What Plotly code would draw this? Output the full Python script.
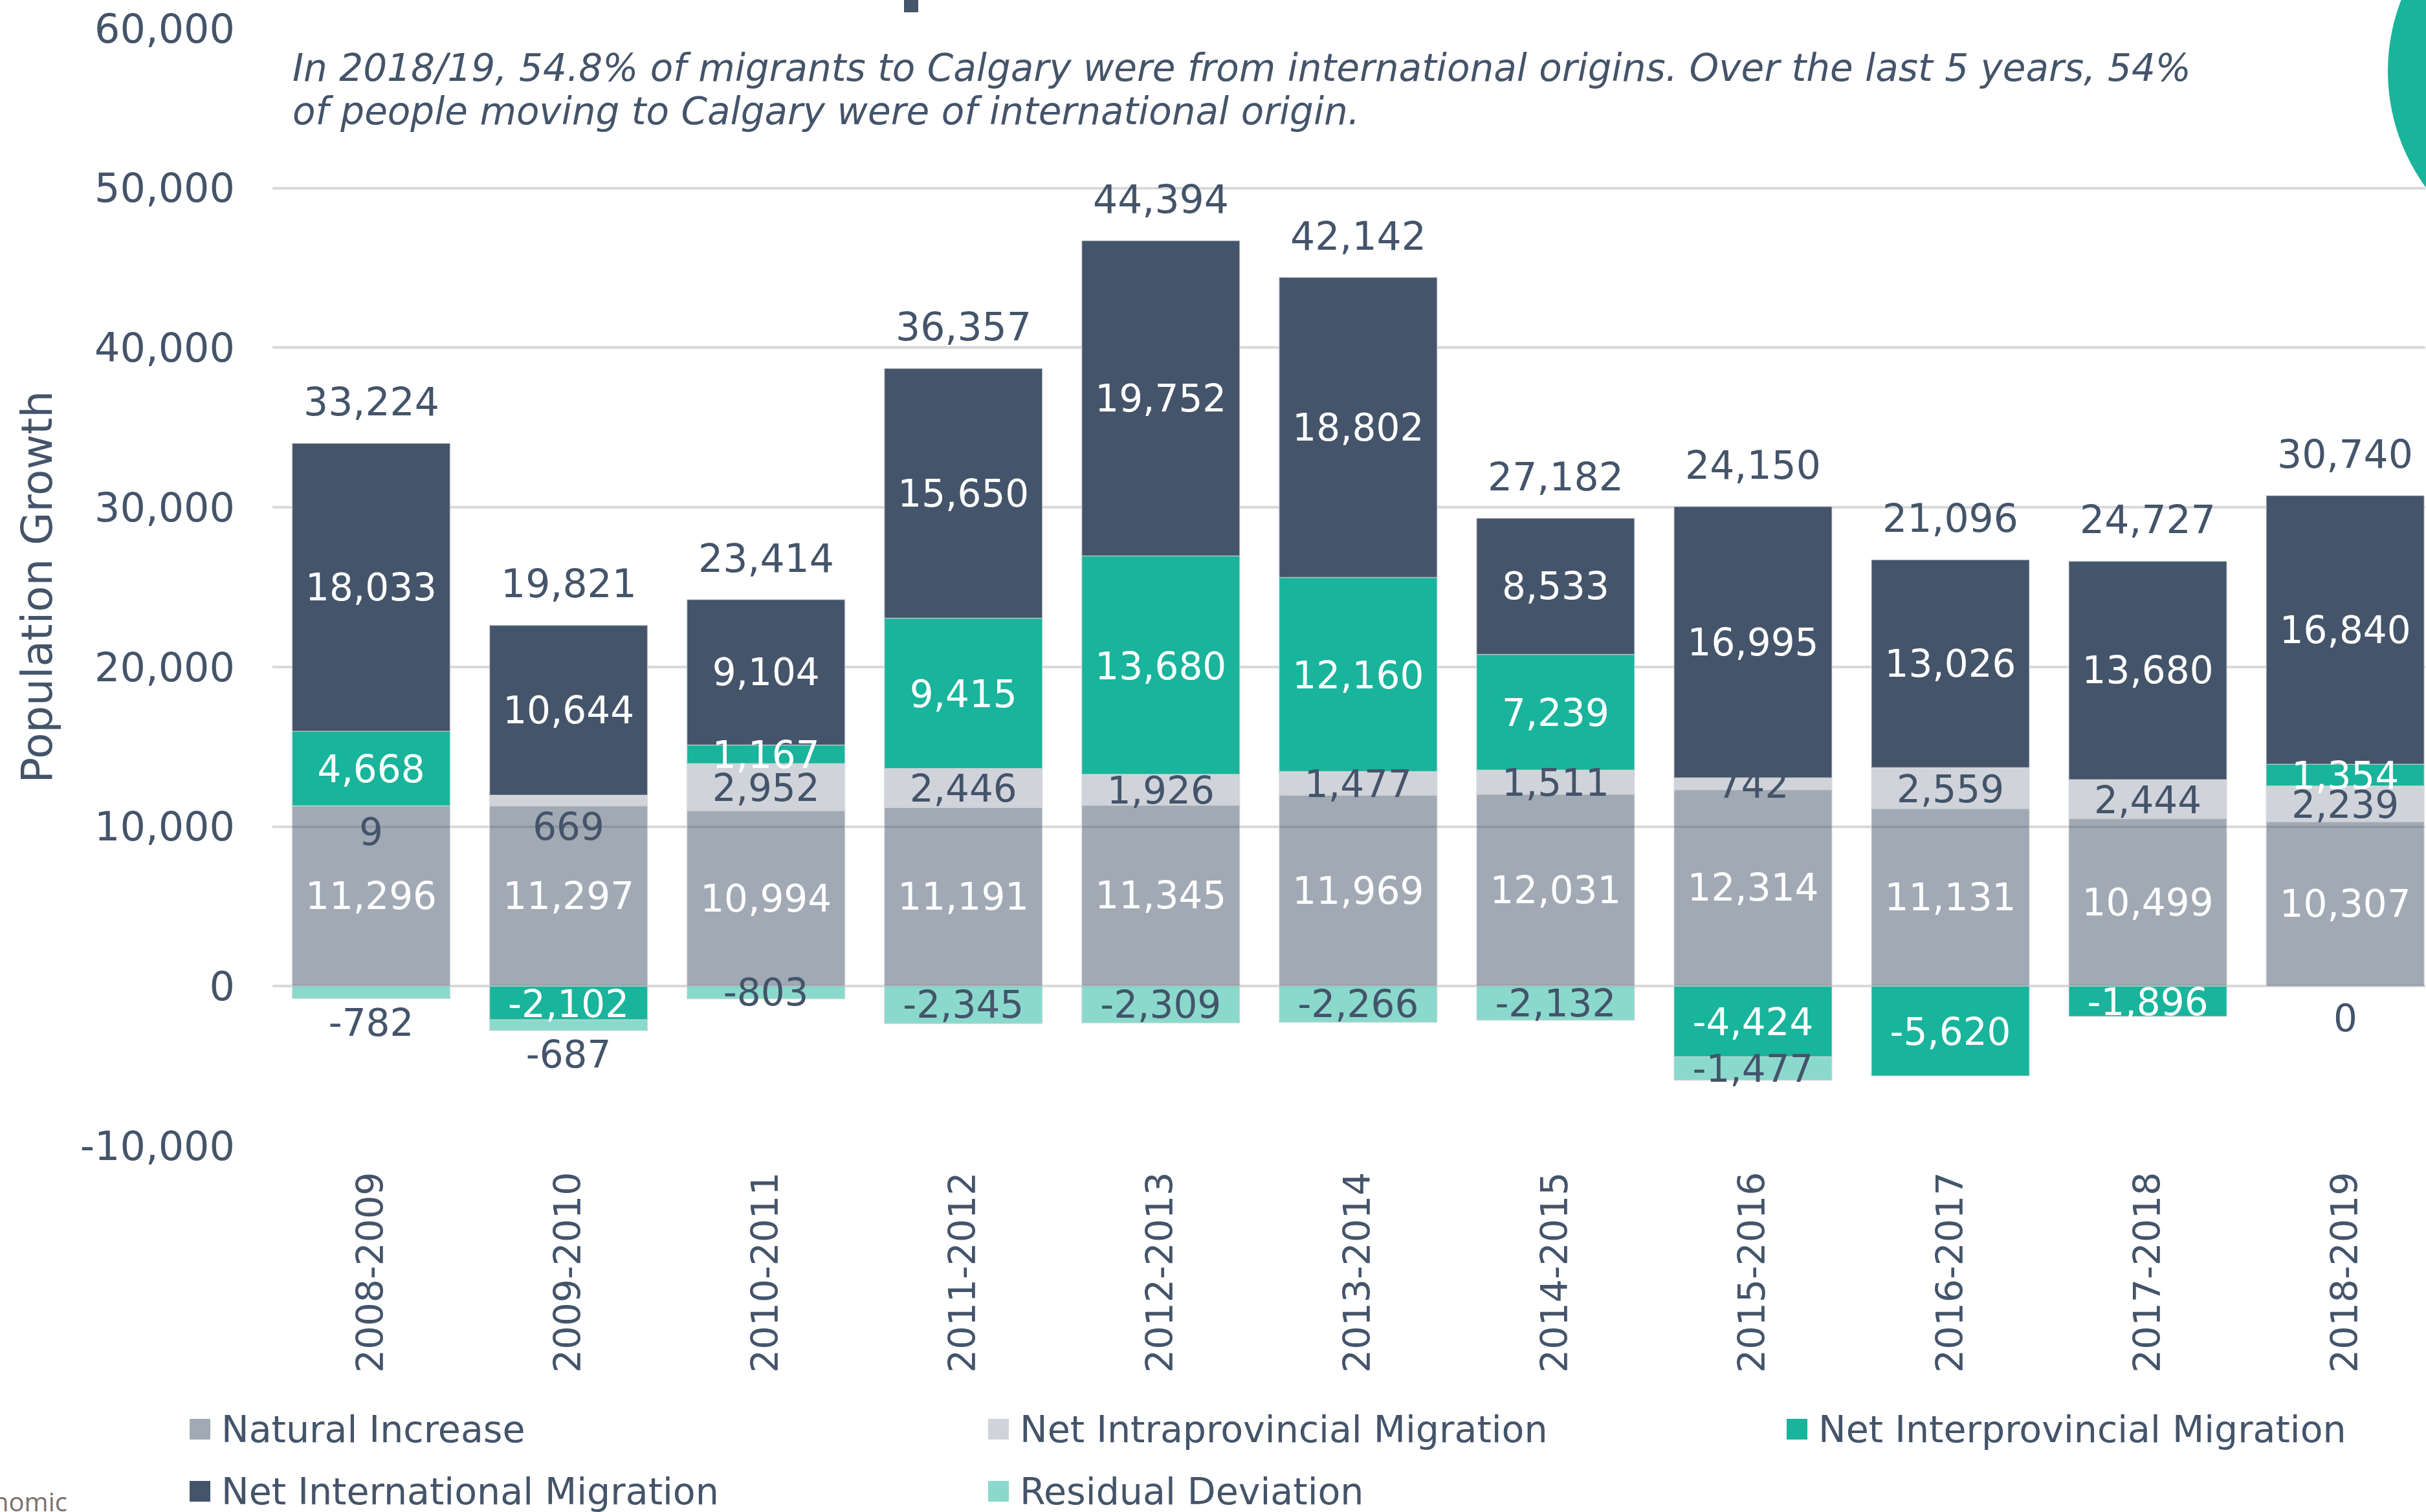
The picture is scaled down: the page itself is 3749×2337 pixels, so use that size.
import plotly.graph_objects as go

# ---------------- data ----------------
years = ["2008-2009", "2009-2010", "2010-2011", "2011-2012", "2012-2013", "2013-2014",
         "2014-2015", "2015-2016", "2016-2017", "2017-2018", "2018-2019"]
natural_increase = [11296, 11297, 10994, 11191, 11345, 11969, 12031, 12314, 11131, 10499, 10307]
net_intraprovincial = [9, 669, 2952, 2446, 1926, 1477, 1511, 742, 2559, 2444, 2239]
net_interprovincial = [4668, -2102, 1167, 9415, 13680, 12160, 7239, -4424, -5620, -1896, 1354]
net_international = [18033, 10644, 9104, 15650, 19752, 18802, 8533, 16995, 13026, 13680, 16840]
residual_deviation = [-782, -687, -803, -2345, -2309, -2266, -2132, -1477, None, None, 0]
total_growth = [33224, 19821, 23414, 36357, 44394, 42142, 27182, 24150, 21096, 24727, 30740]

series_names = ["Natural Increase", "Net Intraprovincial Migration", "Net Interprovincial Migration",
                "Net International Migration", "Residual Deviation"]
y_tick_vals = [-10000, 0, 10000, 20000, 30000, 40000, 50000, 60000]
y_tick_text = ["-10,000", "0", "10,000", "20,000", "30,000", "40,000", "50,000", "60,000"]

subtitle_lines = ["In 2018/19, 54.8% of migrants to Calgary were from international origins. Over the last 5 years, 54%",
                  "of people moving to Calgary were of international origin."]

# ---------------- style ----------------
NAVY = "#44546A"
TEAL = "#18B49B"
C_NAT = "rgba(68,84,106,0.5)"
C_INTRA = "rgba(68,84,106,0.25)"
C_INTER = TEAL
C_INTL = NAVY
C_RES = "rgba(24,180,155,0.5)"
FONT = "DejaVu Sans"
LABEL_SIZE = 58
SMALL_SEGMENT = 700      # intraprovincial labels of thinner segments sit lower, as in the original
SMALL_SHIFT = 1600
TEXT_NUDGE = 280         # scatter text sits a little higher than bar text; align them

W, H = 3749, 2337
ML, MR, MT, MB = 421, 1, 44, 566
PW, PH = W - ML - MR, H - MT - MB


def px(x):
    return (x - ML) / PW


def py(y):
    return (H - MB - y) / PH


def fmt(v):
    return "" if v is None else f"{v:,}"


fig = go.Figure()

line = dict(color="rgba(217,217,217,0.6)", width=1.5)


def add_bar(name, vals, color, txtcolor=None, textpos="inside", show_text=True):
    fig.add_trace(go.Bar(
        name=name, x=years, y=vals, marker=dict(color=color, line=line),
        text=[fmt(v) for v in vals] if show_text else None,
        textposition=textpos if show_text else "none", insidetextanchor="middle",
        textangle=0, constraintext="none", cliponaxis=False,
        textfont=dict(family=FONT, size=LABEL_SIZE, color=txtcolor),
        showlegend=False,
    ))


add_bar(series_names[0], natural_increase, C_NAT, "white")
add_bar(series_names[1], net_intraprovincial, C_INTRA, show_text=False)
add_bar(series_names[2], net_interprovincial, C_INTER, show_text=False)
add_bar(series_names[3], net_international, C_INTL, "white")

# residual: zero values are labelled but have no bar
res_bar = [None if (v is None or v == 0) else v for v in residual_deviation]
res_pos = ["outside", "outside"] + ["inside"] * (len(years) - 2)
add_bar(series_names[4], res_bar, C_RES, NAVY, res_pos)

# labels drawn above all bars (as in the original) for the two migration series sitting mid-stack
intra_y = []
for n, v in zip(natural_increase, net_intraprovincial):
    c = n + v / 2 - TEXT_NUDGE
    intra_y.append(c - SMALL_SHIFT if v < SMALL_SEGMENT else c)
inter_y = []
for n, a, v in zip(natural_increase, net_intraprovincial, net_interprovincial):
    inter_y.append((n + a + v / 2 if v > 0 else v / 2) - TEXT_NUDGE)

fig.add_trace(go.Scatter(x=years, y=intra_y, mode="text", text=[fmt(v) for v in net_intraprovincial],
                         textposition="middle center", cliponaxis=False, hoverinfo="skip", showlegend=False,
                         textfont=dict(family=FONT, size=LABEL_SIZE, color=NAVY)))
fig.add_trace(go.Scatter(x=years, y=inter_y, mode="text", text=[fmt(v) for v in net_interprovincial],
                         textposition="middle center", cliponaxis=False, hoverinfo="skip", showlegend=False,
                         textfont=dict(family=FONT, size=LABEL_SIZE, color="white")))

annotations = []
# totals above the positive stack
for i, yr in enumerate(years):
    pos_top = sum(v for v in (natural_increase[i], net_intraprovincial[i], net_interprovincial[i],
                              net_international[i], residual_deviation[i]) if v is not None and v > 0)
    annotations.append(dict(x=yr, y=pos_top, xref="x", yref="y", text=f"{total_growth[i]:,}",
                            showarrow=False, yanchor="middle", yshift=64,
                            font=dict(family=FONT, size=60, color=NAVY)))
    if residual_deviation[i] == 0:
        annotations.append(dict(x=yr, y=0, xref="x", yref="y", text=fmt(residual_deviation[i]),
                                showarrow=False, yanchor="middle", yshift=-50,
                                font=dict(family=FONT, size=LABEL_SIZE, color=NAVY)))

# subtitle (two lines)
for line_text, yc in zip(subtitle_lines, (105, 172)):
    annotations.append(dict(x=px(450), y=py(yc), xref="paper", yref="paper", text=line_text,
                            showarrow=False, xanchor="left", yanchor="middle", align="left",
                            font=dict(family="DejaVu Sans", size=58, color=NAVY, style="italic")))
# y axis title
annotations.append(dict(x=px(57), y=0.5, xref="paper", yref="paper", text="Population Growth",
                        showarrow=False, textangle=-90, xanchor="center", yanchor="middle",
                        font=dict(family=FONT, size=66, color=NAVY)))
# cropped footer fragment
annotations.append(dict(x=px(106), y=py(2320), xref="paper", yref="paper", text="nomic",
                        showarrow=False, xanchor="right", yanchor="middle",
                        font=dict(family="Open Sans", size=40, color="#7B716C")))

# manual legend
legend_cells = [(293, 2209), (1527, 2209), (2761, 2209), (293, 2305), (1527, 2305)]
legend_colors = [C_NAT, C_INTRA, C_INTER, C_INTL, C_RES]
shapes = []
for k, name in enumerate(series_names):
    x0, yc = legend_cells[k]
    shapes.append(dict(type="rect", xref="paper", yref="paper", x0=px(x0), x1=px(x0 + 32),
                       y0=py(yc + 16), y1=py(yc - 16), fillcolor=legend_colors[k], line=dict(width=0)))
    annotations.append(dict(x=px(x0 + 47), y=py(yc), xref="paper", yref="paper", text=name,
                            showarrow=False, xanchor="left", yanchor="middle",
                            font=dict(family=FONT, size=57, color=NAVY)))

# decorative cropped elements
shapes.append(dict(type="circle", xref="paper", yref="paper", x0=px(3690), x1=px(4298),
                   y0=py(414), y1=py(-194), fillcolor=TEAL, line=dict(width=0), layer="above"))
shapes.append(dict(type="rect", xref="paper", yref="paper", x0=px(1397), x1=px(1419),
                   y0=py(19), y1=py(-5), fillcolor=NAVY, line=dict(width=0)))

fig.update_layout(
    width=W, height=H, barmode="relative", bargap=0.2,
    margin=dict(l=ML, r=MR, t=MT, b=MB, autoexpand=False),
    paper_bgcolor="white", plot_bgcolor="white",
    font=dict(family=FONT, color=NAVY),
    showlegend=False,
    annotations=annotations, shapes=shapes,
    xaxis=dict(range=[-0.5, 10.406], tickangle=-90, showgrid=False, zeroline=False, showline=False,
               ticks="", tickfont=dict(family=FONT, size=57, color=NAVY), ticklabelstandoff=28,
               automargin=False),
    yaxis=dict(range=[-10000, 60000], tickvals=y_tick_vals, ticktext=y_tick_text,
               showgrid=True, gridcolor="#D9D9D9", gridwidth=4,
               zeroline=True, zerolinecolor="#D9D9D9", zerolinewidth=4, showline=False,
               ticks="", tickfont=dict(family=FONT, size=62, color=NAVY), ticklabelstandoff=57,
               automargin=False),
)

fig.write_html("out.html")
